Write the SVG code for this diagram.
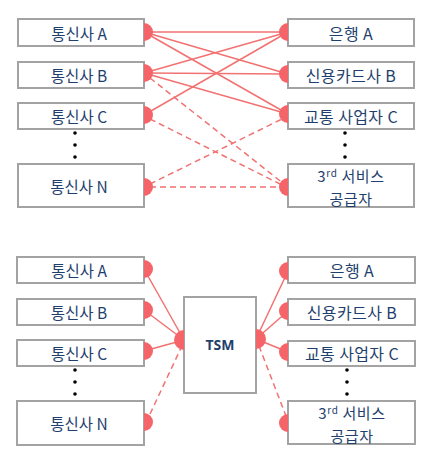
<svg xmlns="http://www.w3.org/2000/svg" width="436" height="467" viewBox="0 0 436 467">
<style>
.box{fill:#fff;stroke:#a3a3a3;stroke-width:2}
.t{font-family:"Noto Sans CJK KR","Noto Sans",sans-serif;font-size:15.5px;fill:#1f3f6e;text-anchor:middle}
.r{font-size:16px;letter-spacing:0.4px}
.s{font-size:15px;letter-spacing:0.6px}
.tsm{font-family:"Open Sans","Noto Sans",sans-serif;font-size:14px;font-weight:bold;fill:#1f3f6e;text-anchor:middle}
.ln{stroke:#f27272;stroke-width:1.5;fill:none}
.dl{stroke:#f27272;stroke-width:1.5;fill:none;stroke-dasharray:6 4}
.sc{fill:#f46468}
.dot{fill:#000}
</style>
<rect width="436" height="467" fill="#fff"/>
<g id="connectors">
<line class="ln" x1="144" y1="32" x2="288" y2="32"/>
<line class="ln" x1="144" y1="32" x2="288" y2="74"/>
<line class="ln" x1="144" y1="32" x2="288" y2="114"/>
<line class="ln" x1="144" y1="73" x2="288" y2="32"/>
<line class="ln" x1="144" y1="73" x2="288" y2="74"/>
<line class="ln" x1="144" y1="73" x2="288" y2="114"/>
<line class="ln" x1="144" y1="115" x2="288" y2="32"/>
<line class="dl" x1="150" y1="78" x2="284" y2="184"/>
<line class="dl" x1="150" y1="119" x2="284" y2="186"/>
<line class="dl" x1="150" y1="184" x2="284" y2="118"/>
<line class="dl" x1="150" y1="187" x2="284" y2="187"/>
<line class="ln" x1="144" y1="269" x2="184" y2="340"/>
<line class="ln" x1="144" y1="310" x2="184" y2="340"/>
<line class="ln" x1="144" y1="351" x2="184" y2="340"/>
<line class="dl" x1="150" y1="414" x2="181" y2="348"/>
<line class="ln" x1="256" y1="339" x2="288" y2="271"/>
<line class="ln" x1="256" y1="339" x2="288" y2="311"/>
<line class="ln" x1="256" y1="339" x2="288" y2="352"/>
<line class="dl" x1="259" y1="346" x2="286" y2="416"/>
</g>
<g id="top-telco-a"><rect class="box" x="18" y="19" width="126" height="27"/><text class="t" x="79" y="39.5">통신사 A</text><path class="sc" d="M144,23 A9,9 0 0 1 144,41 Z"/></g>
<g id="top-telco-b"><rect class="box" x="18" y="62" width="126" height="26"/><text class="t" x="79" y="81.5">통신사 B</text><path class="sc" d="M144,64 A9,9 0 0 1 144,82 Z"/></g>
<g id="top-telco-c"><rect class="box" x="18" y="103" width="126" height="26"/><text class="t" x="79" y="122.5">통신사 C</text><path class="sc" d="M144,106 A9,9 0 0 1 144,124 Z"/></g>
<g id="top-dots-left"><circle class="dot" cx="75" cy="133" r="1.8"/><circle class="dot" cx="75" cy="145" r="1.8"/><circle class="dot" cx="75" cy="157" r="1.8"/></g>
<g id="top-telco-n"><rect class="box" x="18" y="164" width="126" height="43"/><text class="t" x="79" y="192.5">통신사 N</text><path class="sc" d="M144,178 A9,9 0 0 1 144,196 Z"/></g>
<g id="top-bank"><rect class="box" x="288" y="19" width="126" height="27"/><text class="t r" x="351" y="39.5">은행 A</text><path class="sc" d="M288,23 A9,9 0 0 0 288,41 Z"/></g>
<g id="top-card"><rect class="box" x="288" y="62" width="126" height="26"/><text class="t r" x="351" y="81.5">신용카드사 B</text><path class="sc" d="M288,65 A9,9 0 0 0 288,83 Z"/></g>
<g id="top-transport"><rect class="box" x="288" y="103" width="126" height="26"/><text class="t r" x="351" y="122.5">교통 사업자 C</text><path class="sc" d="M288,105 A9,9 0 0 0 288,123 Z"/></g>
<g id="top-dots-right"><circle class="dot" cx="345" cy="133" r="1.8"/><circle class="dot" cx="345" cy="145" r="1.8"/><circle class="dot" cx="345" cy="157" r="1.8"/></g>
<g id="top-3rd"><rect class="box" x="288" y="164" width="126" height="43"/><text class="t s" x="351" y="182">3<tspan font-size="10" dy="-5">rd</tspan><tspan dy="5"> 서비스</tspan></text><text class="t s" x="351" y="204.5">공급자</text><path class="sc" d="M288,178 A9,9 0 0 0 288,196 Z"/></g>
<g id="bot-telco-a"><rect class="box" x="17" y="257" width="127" height="26"/><text class="t" x="79" y="276.5">통신사 A</text><path class="sc" d="M144,260 A9,9 0 0 1 144,278 Z"/></g>
<g id="bot-telco-b"><rect class="box" x="17" y="299" width="127" height="26"/><text class="t" x="79" y="318.5">통신사 B</text><path class="sc" d="M144,301 A9,9 0 0 1 144,319 Z"/></g>
<g id="bot-telco-c"><rect class="box" x="17" y="340" width="127" height="26"/><text class="t" x="79" y="359.5">통신사 C</text><path class="sc" d="M144,342 A9,9 0 0 1 144,360 Z"/></g>
<g id="bot-dots-left"><circle class="dot" cx="75" cy="370" r="1.8"/><circle class="dot" cx="75" cy="382" r="1.8"/><circle class="dot" cx="75" cy="394" r="1.8"/></g>
<g id="bot-telco-n"><rect class="box" x="17" y="401" width="127" height="44"/><text class="t" x="79" y="430">통신사 N</text><path class="sc" d="M144,413 A9,9 0 0 1 144,431 Z"/></g>
<g id="tsm"><rect class="box" x="184" y="297" width="72" height="96"/><text class="tsm" x="220" y="350">TSM</text><path class="sc" d="M184,330 A10,10 0 0 0 184,350 Z"/><path class="sc" d="M256,329 A10,10 0 0 1 256,349 Z"/></g>
<g id="bot-bank"><rect class="box" x="288" y="257" width="127" height="26"/><text class="t r" x="352" y="276.5">은행 A</text><path class="sc" d="M288,262 A9,9 0 0 0 288,280 Z"/></g>
<g id="bot-card"><rect class="box" x="288" y="299" width="127" height="26"/><text class="t r" x="352" y="318.5">신용카드사 B</text><path class="sc" d="M288,302 A9,9 0 0 0 288,320 Z"/></g>
<g id="bot-transport"><rect class="box" x="288" y="341" width="127" height="25"/><text class="t r" x="352" y="360">교통 사업자 C</text><path class="sc" d="M288,343 A9,9 0 0 0 288,361 Z"/></g>
<g id="bot-dots-right"><circle class="dot" cx="347" cy="370" r="1.8"/><circle class="dot" cx="347" cy="382" r="1.8"/><circle class="dot" cx="347" cy="394" r="1.8"/></g>
<g id="bot-3rd"><rect class="box" x="288" y="401" width="127" height="43"/><text class="t s" x="352" y="419">3<tspan font-size="10" dy="-5">rd</tspan><tspan dy="5"> 서비스</tspan></text><text class="t s" x="352" y="441.5">공급자</text><path class="sc" d="M288,414 A9,9 0 0 0 288,432 Z"/></g>
</svg>
